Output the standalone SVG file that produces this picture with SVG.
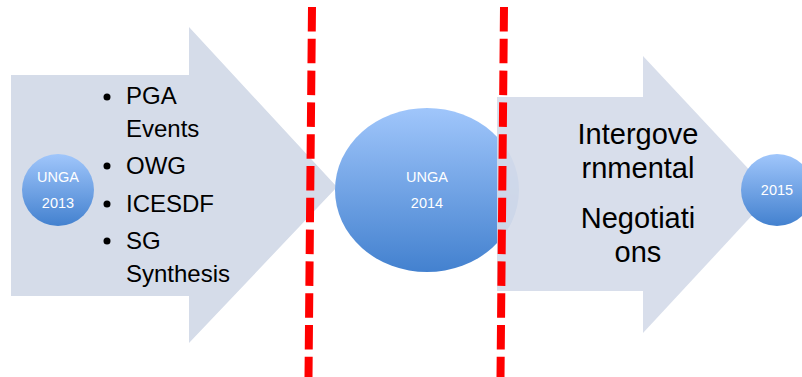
<svg xmlns="http://www.w3.org/2000/svg" width="802" height="377" viewBox="0 0 802 377">
  <defs>
    <linearGradient id="blue" x1="0" y1="0" x2="0" y2="1">
      <stop offset="0" stop-color="#a0c6fb"/>
      <stop offset="1" stop-color="#4381cf"/>
    </linearGradient>
    <style>
      .arrow { fill: #d5dce9; }
      .bubble { fill: url(#blue); }
      .ctext { font-family: "Liberation Sans", Arial, sans-serif; font-size: 14.5px; fill: #ffffff; text-anchor: middle; }
      .list { font-family: "Liberation Sans", Arial, sans-serif; font-size: 24px; fill: #000000; }
      .big { font-family: "Liberation Sans", Arial, sans-serif; font-size: 29px; fill: #000000; text-anchor: middle; }
      .divider { stroke: #ff0000; stroke-width: 8; stroke-dasharray: 24.5 7.3; fill: none; }
    </style>
  </defs>

  <g id="arrow-left">
    <polygon class="arrow" points="11,75 189,75 189,27 337,187 189,343 189,296 11,296"/>
    <g class="list">
      <circle cx="107" cy="97" r="3.5"/>
      <text x="126" y="104">PGA</text>
      <text x="126" y="137">Events</text>
      <circle cx="107" cy="166" r="3.5"/>
      <text x="126" y="174">OWG</text>
      <circle cx="107" cy="204" r="3.5"/>
      <text x="126" y="212">ICESDF</text>
      <circle cx="107" cy="241" r="3.5"/>
      <text x="126" y="249">SG</text>
      <text x="126" y="282">Synthesis</text>
    </g>
  </g>

  <g id="unga-2013">
    <circle class="bubble" cx="58" cy="190" r="36"/>
    <text class="ctext" x="58" y="182">UNGA</text>
    <text class="ctext" x="58" y="208">2013</text>
  </g>

  <g id="unga-2014">
    <ellipse class="bubble" cx="427" cy="190" rx="92" ry="82"/>
    <text class="ctext" x="427" y="182">UNGA</text>
    <text class="ctext" x="427" y="208">2014</text>
  </g>

  <g id="arrow-right">
    <polygon class="arrow" fill-opacity="0.93" points="497,97 643,97 643,56 772,194 643,333 643,291 497,291"/>
    <text class="big" x="638" y="144">Intergove</text>
    <text class="big" x="638" y="178">rnmental</text>
    <text class="big" x="638" y="228">Negotiati</text>
    <text class="big" x="638" y="262">ons</text>
  </g>

  <g id="year-2015">
    <circle class="bubble" cx="777" cy="190" r="36"/>
    <text class="ctext" x="777" y="195">2015</text>
  </g>

  <g id="connectors">
    <line class="divider" x1="312" y1="7" x2="308.5" y2="377"/>
    <line class="divider" x1="504" y1="7" x2="500.5" y2="377"/>
  </g>
</svg>
